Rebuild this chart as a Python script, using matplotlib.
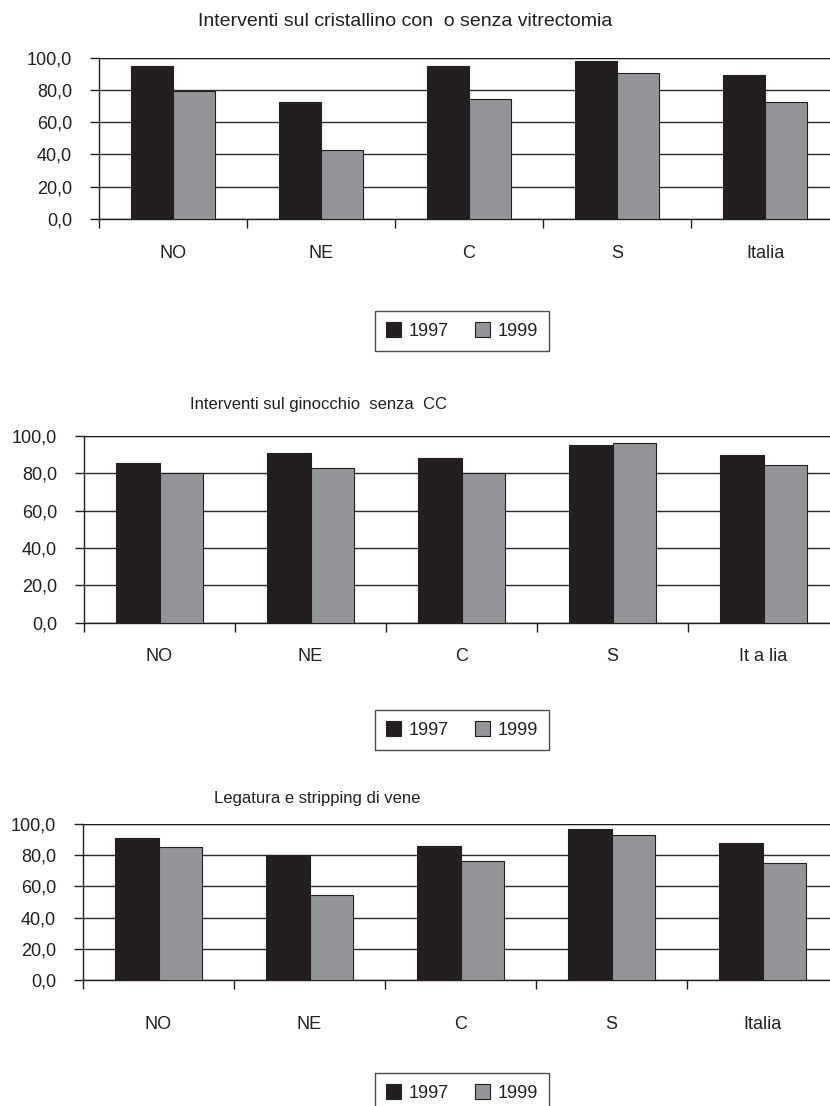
import numpy as np
import matplotlib
matplotlib.use("Agg")
import matplotlib.pyplot as plt
from matplotlib.ticker import FixedLocator, FuncFormatter

plt.rcParams["font.family"] = ["Liberation Sans", "DejaVu Sans"]

# ─────────────────────────────────────────────
# DATA — % per area geografica, 1997 vs 1999
# ─────────────────────────────────────────────

years = ["1997", "1999"]
aree = ["NO", "NE", "C", "S", "Italia"]
aree_ginocchio = ["NO", "NE", "C", "S", "It a lia"]

cristallino_1997 = [94.6, 72.5, 94.6, 98.1, 89.3]
cristallino_1999 = [79.5, 42.6, 74.2, 90.7, 72.3]

ginocchio_1997 = [85.6, 90.7, 88.2, 94.8, 89.7]
ginocchio_1999 = [80.0, 82.7, 80.0, 95.9, 84.3]

vene_1997 = [91.2, 80.1, 85.7, 96.6, 87.6]
vene_1999 = [85.5, 54.7, 76.5, 93.2, 75.0]

titoli = ["Interventi sul cristallino con  o senza vitrectomia",
          "Interventi sul ginocchio  senza  CC",
          "Legatura e stripping di vene"]

yticks = [0, 20, 40, 60, 80, 100]

# ─────────────────────────────────────────────
# LAYOUT (pixel → frazioni della figura)
# ─────────────────────────────────────────────

W, H = 830, 1106
fig = plt.figure(figsize=(W / 100, H / 100), dpi=100)


def px_axes(left, top, width, bottom):
    return fig.add_axes([left / W, 1 - bottom / H, width / W, (bottom - top) / H])


pannelli = [
    # axes box, title (x, y, size), label pad, legend centre y, labels, data
    dict(box=(99, 57.7, 740, 219), title=(405, 22, 14), lpad=19, leg_y=331,
         labels=aree, v97=cristallino_1997, v99=cristallino_1999),
    dict(box=(84, 435.7, 755, 622.7), title=(318, 405, 12), lpad=18, leg_y=730,
         labels=aree_ginocchio, v97=ginocchio_1997, v99=ginocchio_1999),
    dict(box=(83, 824, 755, 980), title=(317, 798, 12), lpad=26, leg_y=1093,
         labels=aree, v97=vene_1997, v99=vene_1999),
]

C97 = "#231f20"
C99 = "#939598"
INK = "#231f20"
bw = 1 / 3.5

for i, p in enumerate(pannelli):
    l, t, w, b = p["box"]
    ax = px_axes(l, t, w, b)
    x = np.arange(len(p["labels"])) + 0.5

    b1 = ax.bar(x - bw / 2, p["v97"], bw, color=C97, edgecolor=INK,
                linewidth=0.8, zorder=3, label=years[0])
    b2 = ax.bar(x + bw / 2, p["v99"], bw, color=C99, edgecolor=INK,
                linewidth=0.8, zorder=3, label=years[1])

    ax.set_xlim(0, len(p["labels"]))
    ax.set_ylim(0, 100)

    # assi e griglia in stile foglio di calcolo
    ax.set_yticks(yticks)
    ax.yaxis.set_major_formatter(FuncFormatter(lambda v, _: f"{v:.1f}".replace(".", ",")))
    ax.yaxis.grid(True, color="#2b2b2b", linewidth=1.0, zorder=1)
    ax.axhline(100, color="#1a1a1a", linewidth=1.6, zorder=2)
    ax.tick_params(axis="y", length=6.5, width=1.0, color=INK, pad=13,
                   labelsize=13, labelcolor=INK)

    ax.xaxis.set_major_locator(FixedLocator(x))
    ax.set_xticklabels(p["labels"])
    ax.xaxis.set_minor_locator(FixedLocator(np.arange(len(p["labels"]) + 1)))
    ax.tick_params(axis="x", which="major", length=0, pad=p["lpad"],
                   labelsize=13, labelcolor=INK)
    ax.tick_params(axis="x", which="minor", length=6.5, width=1.0, color=INK)

    for s in ["top", "right"]:
        ax.spines[s].set_visible(False)
    for s in ["left", "bottom"]:
        ax.spines[s].set_color(INK)
        ax.spines[s].set_linewidth(1.0)

    tx, ty, ts = p["title"]
    fig.text(tx / W, 1 - ty / H, titoli[i], ha="center", va="center",
             fontsize=ts, color=INK)

    leg = fig.legend(handles=[b1, b2], loc="center",
                     bbox_to_anchor=(462 / W, 1 - p["leg_y"] / H),
                     ncol=2, fontsize=13, frameon=True, fancybox=False,
                     handlelength=0.85, handleheight=0.85, handletextpad=0.45,
                     columnspacing=1.4, borderpad=0.6, borderaxespad=0)
    leg.get_frame().set_edgecolor(INK)
    leg.get_frame().set_linewidth(1.0)
    for txt in leg.get_texts():
        txt.set_color(INK)

fig.savefig("out.png", dpi=100)
